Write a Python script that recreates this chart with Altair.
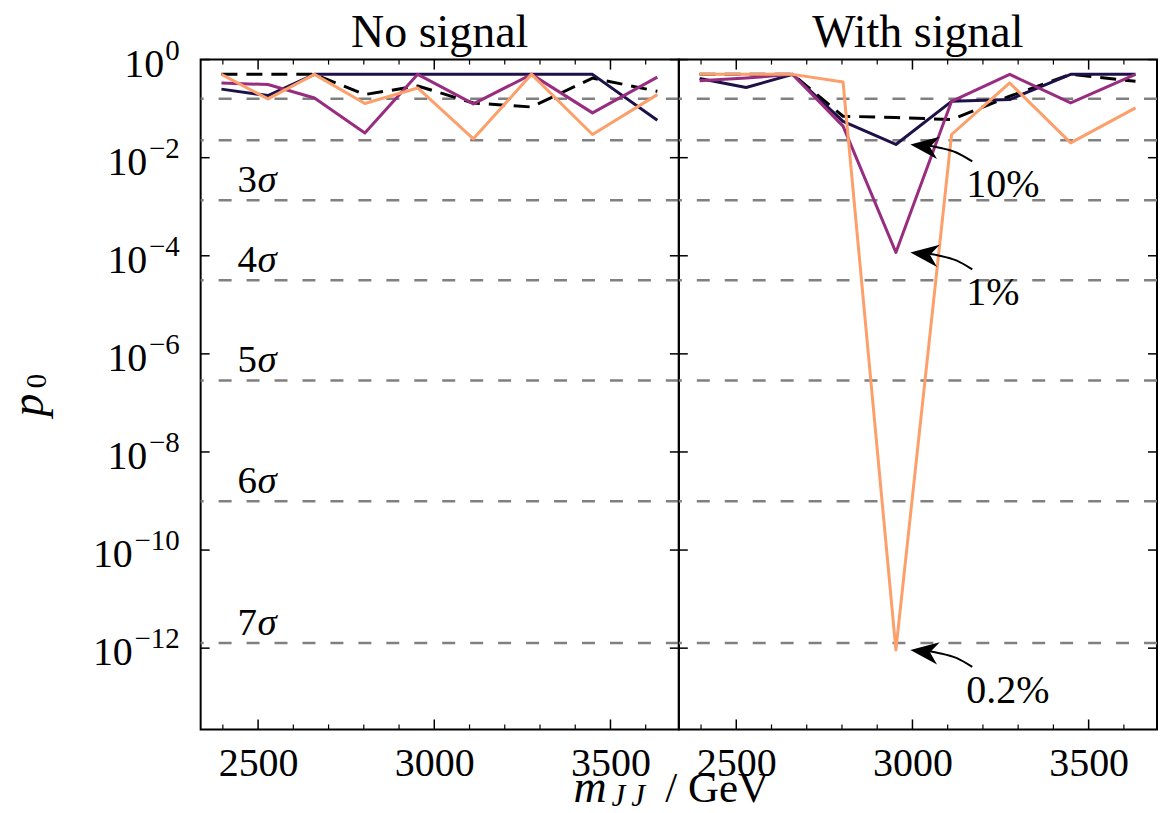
import math
import altair as alt
import pandas as pd

FONT = "Liberation Serif"

# ---------------- data ----------------
mass_gev = [2396, 2528, 2660, 2803, 2953, 3111, 3276, 3449, 3633]

series_names = ["10%", "1%", "0.2%"]
series_colors = ["#1e1147", "#982d80", "#fc9f6b"]

# "No signal" panel
nosig_p_10 = [0.25, 0.185, 0.5, 0.5, 0.5, 0.5, 0.5, 0.5, 0.058]
nosig_p_1 = [0.333, 0.31, 0.165, 0.032, 0.5, 0.125, 0.5, 0.082, 0.44]
nosig_p_02 = [0.5, 0.158, 0.5, 0.127, 0.264, 0.0243, 0.5, 0.0297, 0.193]
nosig_p_ref = [0.5, 0.5, 0.5, 0.194, 0.29, 0.13, 0.108, 0.42, 0.226]

# "With signal" panel
sig_p_10 = [0.41, 0.27, 0.5, 0.055, 0.0186, 0.141, 0.153, 0.5, 0.5]
sig_p_1 = [0.37, 0.42, 0.5, 0.044, 1.17e-4, 0.141, 0.5, 0.131, 0.5]
sig_p_02 = [0.5, 0.5, 0.5, 0.35, 9.2e-13, 0.0297, 0.334, 0.0201, 0.1036]
sig_p_ref = [0.5, 0.5, 0.5, 0.07, 0.066, 0.06, 0.179, 0.5, 0.36]

panel_titles = ["No signal", "With signal"]

sigma_p = [0.1587, 0.02275, 1.35e-3, 3.167e-5, 2.867e-7, 9.866e-10, 1.280e-12]
sigma_num = ["", "", "3", "4", "5", "6", "7"]

y_tick_exponents = [0, -2, -4, -6, -8, -10, -12]
x_label_values = [2500, 3000, 3500]
x_minor_values = [2400, 2600, 2700, 2800, 2900, 3100, 3200, 3300, 3400, 3600]

# ---------------- layout ----------------
W, H = 479, 671
X_DOMAIN = [2337, 3694]
Y_DOMAIN = [2.2e-14, 1.0]
GEV_PER_PX = (X_DOMAIN[1] - X_DOMAIN[0]) / W
DEC_PER_PX = math.log10(Y_DOMAIN[1] / Y_DOMAIN[0]) / H

xscale = alt.Scale(domain=X_DOMAIN, nice=False, zero=False)
yscale = alt.Scale(type="log", domain=Y_DOMAIN, nice=False)
x_axis = alt.Axis(values=x_label_values, title=None, ticks=False, domain=False, grid=False,
                  labelFont=FONT, labelFontSize=40, labelColor="black", labelPadding=14,
                  format="d", labelFlush=False, labelOverlap=False)


def enc_x(field="mass"):
    return alt.X(f"{field}:Q", scale=xscale, axis=x_axis)


def enc_y(field="p"):
    return alt.Y(f"{field}:Q", scale=yscale, axis=None)


def series_df(values):
    return pd.DataFrame({"mass": mass_gev, "p": values})


def text_layer(txt, x, y, size, align="left", baseline="alphabetic", style="normal", angle=0):
    return alt.Chart(pd.DataFrame({"t": [txt]})).mark_text(
        font=FONT, fontSize=size, align=align, baseline=baseline, fontStyle=style,
        angle=angle, color="black"
    ).encode(text="t:N", x=alt.value(x), y=alt.value(y))


sigma_df = pd.DataFrame({"p": sigma_p, "num": sigma_num, "sym": ["σ" if s else "" for s in sigma_num]})
ytick_df = pd.DataFrame({"p": [10.0 ** e for e in y_tick_exponents]})
xmaj_df = pd.DataFrame({"m": x_label_values})
xmin_df = pd.DataFrame({"m": x_minor_values})


def base_layers(ref_vals, vals_list):
    layers = [
        alt.Chart(sigma_df).mark_rule(color="#808080", strokeWidth=2.5, strokeDash=[13, 15]).encode(y=enc_y()),
        alt.Chart(series_df(ref_vals)).mark_line(color="black", strokeWidth=3, strokeDash=[16, 9],
                                                 strokeJoin="round").encode(x=enc_x(), y=enc_y()),
    ]
    for vals, col in zip(vals_list, series_colors):
        layers.append(alt.Chart(series_df(vals)).mark_line(color=col, strokeWidth=3, strokeJoin="round")
                      .encode(x=enc_x(), y=enc_y()))
    # inward ticks
    layers += [
        alt.Chart(ytick_df).mark_rule(color="black", strokeWidth=1.5).encode(y=enc_y(), x=alt.value(0), x2=alt.value(9)),
        alt.Chart(ytick_df).mark_rule(color="black", strokeWidth=1.5).encode(y=enc_y(), x=alt.value(W - 9), x2=alt.value(W)),
        alt.Chart(xmaj_df).mark_rule(color="black", strokeWidth=1.5).encode(x=enc_x("m"), y=alt.value(H - 10), y2=alt.value(H)),
        alt.Chart(xmaj_df).mark_rule(color="black", strokeWidth=1.5).encode(x=enc_x("m"), y=alt.value(0), y2=alt.value(10)),
        alt.Chart(xmin_df).mark_rule(color="black", strokeWidth=1.2).encode(x=enc_x("m"), y=alt.value(H - 5), y2=alt.value(H)),
        alt.Chart(xmin_df).mark_rule(color="black", strokeWidth=1.2).encode(x=enc_x("m"), y=alt.value(0), y2=alt.value(5)),
    ]
    return layers


# ---------------- left panel ----------------
left_layers = base_layers(nosig_p_ref, [nosig_p_10, nosig_p_1, nosig_p_02])

# white anchor fixing the chart's top-left corner in the page
left_layers.append(alt.Chart(pd.DataFrame({"k": [0]})).mark_rule(color="white", strokeWidth=1)
                   .encode(x=alt.value(-199), y=alt.value(-57.5), y2=alt.value(-50)))

# sigma labels: upright digit + italic sigma
sig_lab = sigma_df[sigma_df["num"] != ""]
left_layers.append(alt.Chart(sig_lab).mark_text(
    font=FONT, fontSize=39, align="left", baseline="alphabetic", dy=-8, color="black"
).encode(x=alt.value(37), y=enc_y(), text="num:N"))
left_layers.append(alt.Chart(sig_lab).mark_text(
    font=FONT, fontSize=39, align="left", baseline="alphabetic", dy=-8, fontStyle="italic", color="black"
).encode(x=alt.value(57), y=enc_y(), text="sym:N"))

# y tick labels: "10" + superscript exponent, right aligned
exp_str = ["0" if e == 0 else "\u2212" + str(abs(e)) for e in y_tick_exponents]
ylab_df = pd.DataFrame({"p": [10.0 ** e for e in y_tick_exponents], "base": "10", "exp": exp_str})
EXP_FS, BASE_FS = 29, 40
for n in sorted(set(len(s) for s in exp_str)):
    sub = ylab_df[ylab_df["exp"].str.len() == n]
    has_minus = n > 1
    w = EXP_FS * (0.5 * (n - (1 if has_minus else 0)) + (0.584 if has_minus else 0))
    left_layers.append(alt.Chart(sub).mark_text(font=FONT, fontSize=BASE_FS, align="right", baseline="alphabetic",
                                                dy=17, color="black")
                       .encode(x=alt.value(-21 - w - 1), y=enc_y(), text="base:N"))
    left_layers.append(alt.Chart(sub).mark_text(font=FONT, fontSize=EXP_FS, align="right", baseline="alphabetic",
                                                dy=0, color="black")
                       .encode(x=alt.value(-21), y=enc_y(), text="exp:N"))

# axis titles and panel title
left_layers += [
    text_layer("p", -158, 346, 46, align="center", style="italic", angle=270),
    text_layer("0", -155, 322, 29, align="center", angle=270),
    text_layer("m", 373.5, 744, 46, style="italic"),
    text_layer("J\u2009J", 411.5, 748, 31, style="italic"),
    text_layer("/ GeV", 465.5, 744, 43),
    text_layer(panel_titles[0], W / 2, -13, 46, align="center"),
]

# ---------------- right panel ----------------
right_vals = [sig_p_10, sig_p_1, sig_p_02]
right_layers = base_layers(sig_p_ref, right_vals)

# annotations pointing at the minima
curve_dx = [10, 28, 46, 62]
curve_dy = [0, 3, 8, 17]
tip_rows, curve_rows = [], []
for name, vals in zip(series_names, right_vals):
    i = min(range(len(vals)), key=lambda k: vals[k])
    tx = mass_gev[i] + 14.5 * GEV_PER_PX
    tp = vals[i]
    tip_rows.append({"label": name, "mass": tx, "p": tp})
    for j, (ddx, ddy) in enumerate(zip(curve_dx, curve_dy)):
        curve_rows.append({"label": name, "order": j, "mass": tx + ddx * GEV_PER_PX,
                           "p": tp * 10 ** (-ddy * DEC_PER_PX)})
tip_df = pd.DataFrame(tip_rows)
curve_df = pd.DataFrame(curve_rows)

right_layers += [
    alt.Chart(curve_df).mark_line(color="black", strokeWidth=2, interpolate="monotone")
    .encode(x=enc_x(), y=enc_y(), detail="label:N", order="order:Q"),
    alt.Chart(tip_df).mark_point(shape="M 0 0 L 2 -0.8 L 1.4 0 L 2 0.8 Z", size=800, filled=True,
                                 color="black", opacity=1, strokeWidth=0, angle=7)
    .encode(x=enc_x(), y=enc_y()),
    alt.Chart(tip_df).mark_text(font=FONT, fontSize=40, align="left", baseline="alphabetic",
                                dx=56, dy=53, color="black")
    .encode(x=enc_x(), y=enc_y(), text="label:N"),
    text_layer(panel_titles[1], W / 2, -13, 46, align="center"),
]

left = alt.layer(*left_layers).properties(width=W, height=H)
right = alt.layer(*right_layers).properties(width=W, height=H)

chart = (
    alt.hconcat(left, right, spacing=0, bounds="flush")
    .properties(padding=0, background="white")
    .configure_view(stroke="black", strokeWidth=2)
)

chart.save("out.html", embed_options={"renderer": "svg", "actions": False})
